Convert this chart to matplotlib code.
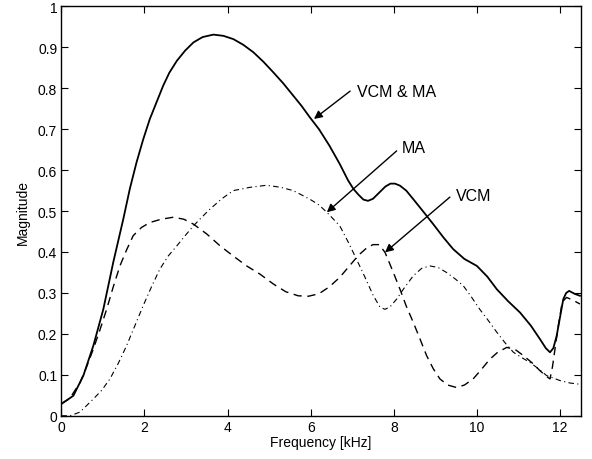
import numpy as np
import matplotlib.pyplot as plt

plt.rcParams['font.family'] = ['Liberation Sans', 'DejaVu Sans']

# VCM & MA (solid)
freq_both = [0, 0.29, 0.53, 0.77, 1.01, 1.25, 1.49, 1.65, 1.81, 1.97, 2.13, 2.3, 2.45, 2.6, 2.78,
             2.98, 3.18, 3.4, 3.66, 3.9, 4.14, 4.38, 4.62, 4.86, 5.1, 5.34, 5.58, 5.78, 5.98, 6.2,
             6.45, 6.7, 6.9, 7.03, 7.15, 7.27, 7.38, 7.5, 7.65, 7.8, 7.92, 8.03, 8.15, 8.3, 8.47,
             8.7, 8.95, 9.2, 9.43, 9.7, 10.0, 10.25, 10.48, 10.75, 11.04, 11.3, 11.52, 11.66,
             11.76, 11.84, 11.92, 12.0, 12.08, 12.15, 12.22, 12.35, 12.48]
mag_both = [0.0286, 0.049, 0.098, 0.171, 0.26, 0.375, 0.48, 0.555, 0.619, 0.675, 0.725, 0.768,
            0.806, 0.838, 0.867, 0.892, 0.912, 0.925, 0.931, 0.928, 0.920, 0.906, 0.888, 0.865,
            0.839, 0.812, 0.782, 0.757, 0.729, 0.70, 0.66, 0.615, 0.575, 0.554, 0.54, 0.528,
            0.525, 0.53, 0.545, 0.56, 0.567, 0.567, 0.562, 0.55, 0.529, 0.50, 0.468, 0.435, 0.407,
            0.383, 0.366, 0.34, 0.309, 0.28, 0.252, 0.22, 0.187, 0.165, 0.155, 0.165, 0.195,
            0.24, 0.285, 0.30, 0.305, 0.298, 0.293]

# VCM (dashed)
freq_vcm = [0, 0.2, 0.45, 0.61, 0.77, 0.93, 1.09, 1.25, 1.41, 1.57, 1.73, 1.93, 2.13, 2.4, 2.7,
            2.95, 3.18, 3.5, 3.82, 4.14, 4.46, 4.78, 5.1, 5.4, 5.7, 5.95, 6.2, 6.45, 6.7, 6.95,
            7.15, 7.35, 7.5, 7.65, 7.79, 7.97, 8.15, 8.3, 8.47, 8.63, 8.79, 8.95, 9.11, 9.3, 9.51,
            9.7, 9.91, 10.1, 10.31, 10.5, 10.72, 10.92, 11.12, 11.32, 11.52, 11.66, 11.76, 11.82,
            11.88, 11.96, 12.04, 12.1, 12.16, 12.3, 12.48]
mag_vcm = [0.03, 0.042, 0.081, 0.12, 0.163, 0.21, 0.26, 0.315, 0.366, 0.405, 0.44, 0.46, 0.472,
           0.48, 0.485, 0.48, 0.468, 0.444, 0.415, 0.39, 0.366, 0.346, 0.322, 0.303, 0.293,
           0.292, 0.298, 0.315, 0.338, 0.368, 0.392, 0.41, 0.418, 0.418, 0.399, 0.355, 0.309,
           0.268, 0.228, 0.188, 0.147, 0.115, 0.09, 0.075, 0.069, 0.075, 0.09, 0.112, 0.138,
           0.155, 0.167, 0.162, 0.147, 0.13, 0.11, 0.097, 0.09, 0.12, 0.163, 0.22, 0.269, 0.283,
           0.289, 0.283, 0.273]

# MA (dash-dot)
freq_ma = [0, 0.21, 0.45, 0.77, 0.97, 1.17, 1.37, 1.57, 1.77, 1.97, 2.17, 2.37, 2.57, 2.78, 2.98,
           3.18, 3.38, 3.58, 3.86, 4.14, 4.54, 4.94, 5.28, 5.58, 5.98, 6.2, 6.39, 6.55, 6.7, 6.9,
           7.1, 7.3, 7.5, 7.67, 7.79, 7.91, 8.07, 8.23, 8.47, 8.67, 8.87, 9.07, 9.27, 9.47, 9.67,
           9.87, 10.07, 10.28, 10.48, 10.68, 10.88, 11.08, 11.28, 11.48, 11.68, 12.0, 12.24, 12.48]
mag_ma = [0, 0.0, 0.009, 0.041, 0.062, 0.09, 0.128, 0.171, 0.22, 0.269, 0.315, 0.358, 0.39, 0.415,
          0.44, 0.464, 0.485, 0.505, 0.53, 0.55, 0.558, 0.563, 0.558, 0.55, 0.529, 0.515, 0.497,
          0.48, 0.464, 0.425, 0.383, 0.34, 0.295, 0.265, 0.26, 0.266, 0.285, 0.309, 0.342, 0.36,
          0.366, 0.362, 0.35, 0.335, 0.318, 0.29, 0.26, 0.232, 0.204, 0.178, 0.155, 0.142, 0.13,
          0.115, 0.098, 0.086, 0.08, 0.077]

fig = plt.figure(figsize=(5.92, 4.6), dpi=100)
ax = fig.add_axes([0.1036, 0.094, 0.8774, 0.89])

ax.plot(freq_both, mag_both, color='k', lw=1.3, solid_joinstyle='round')
ax.plot(freq_vcm, mag_vcm, color='k', lw=1.0, dashes=(6, 4))
ax.plot(freq_ma, mag_ma, color='k', lw=0.8, dashes=(5, 3, 1, 3))

# Annotations with arrows
arrow = dict(arrowstyle='-|>', color='k', lw=1.0, mutation_scale=12, shrinkA=0, shrinkB=0)
ax.annotate('', xy=(6.08, 0.725), xytext=(6.95, 0.793), arrowprops=arrow)
ax.text(7.12, 0.793, 'VCM & MA', fontsize=11.5, va='center', ha='left')
ax.annotate('', xy=(6.39, 0.497), xytext=(8.07, 0.647), arrowprops=arrow)
ax.text(8.19, 0.656, 'MA', fontsize=11.5, va='center', ha='left')
ax.annotate('', xy=(7.79, 0.399), xytext=(9.35, 0.534), arrowprops=arrow)
ax.text(9.5, 0.539, 'VCM', fontsize=11.5, va='center', ha='left')

ax.set_xlim(0, 12.5)
ax.set_ylim(0, 1)
ax.set_xticks(np.arange(0, 13, 2))
ax.set_yticks(np.round(np.arange(0, 1.01, 0.1), 1))
ax.set_yticklabels(['0', '0.1', '0.2', '0.3', '0.4', '0.5', '0.6', '0.7', '0.8', '0.9', '1'])
ax.tick_params(direction='in', top=True, right=True, length=5, width=0.8, labelsize=10, pad=3)
for s in ax.spines.values():
    s.set_linewidth(1.0)

ax.set_xlabel('Frequency [kHz]', fontsize=10, labelpad=1)
ax.set_ylabel('Magnitude', fontsize=10, labelpad=6)

fig.savefig('out.png', dpi=100)
